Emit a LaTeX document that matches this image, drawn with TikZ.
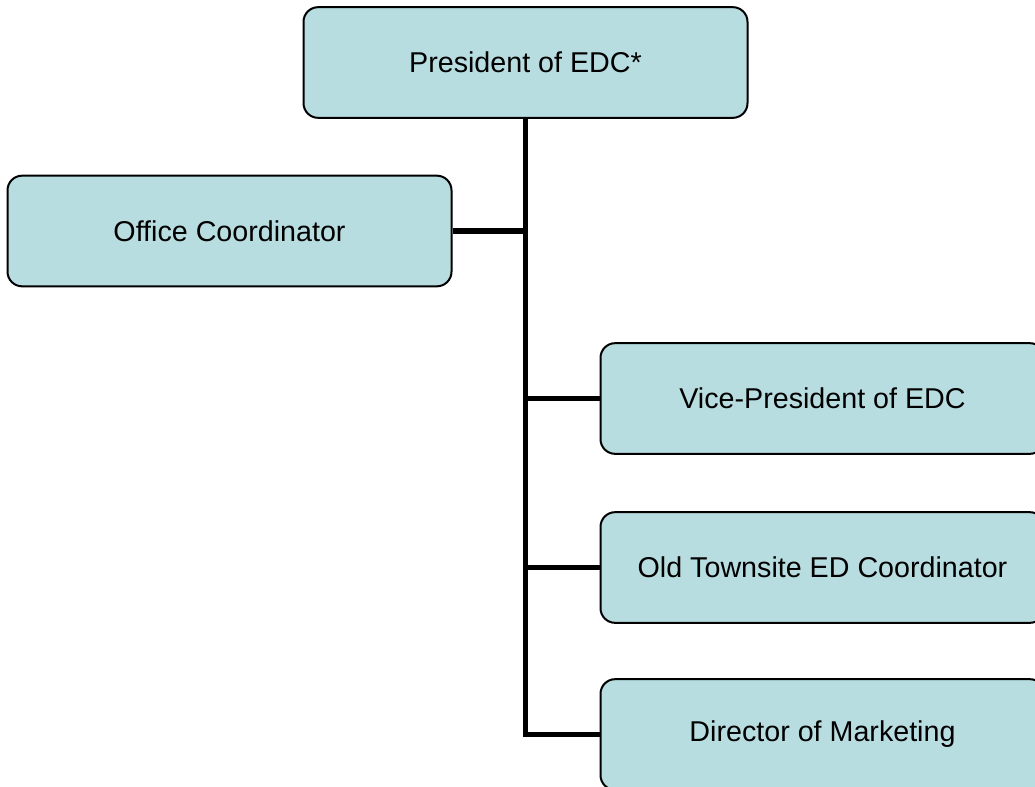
\documentclass[tikz,border=0pt]{standalone}
\usepackage{fontspec}
\setmainfont{Liberation Sans}
\usepackage{tikz}
\definecolor{boxfill}{RGB}{184,221,225}
\tikzset{
  post/.style={draw=black,line width=1.5pt,fill=boxfill,rounded corners=11pt,
    minimum width=333pt,minimum height=83pt,inner sep=0pt,
    font=\fontsize{21.5}{24}\selectfont},
  link/.style={line width=3.8pt}
}

\begin{document}
\begin{tikzpicture}[x=0.75pt,y=-0.75pt]
\useasboundingbox (0,0) rectangle (1035,786);
\clip (0,0) rectangle (1035,786);
% the posts
\node[post] (pres) at (525.5,62.5) {President of EDC*};
\node[post] (office) at (229.5,231) {Office Coordinator};
\node[post] (vp) at (822.5,398.5) {Vice-President of EDC};
\node[post] (old) at (822.5,567.5) {Old Townsite ED Coordinator};
\node[post] (dir) at (822.5,734.5) {Director of Marketing};
% trunk and branches
\draw[link] (pres.south) |- (dir.west);
\draw[link] (office.east) -- (office.east -| pres.south);
\draw[link] (vp.west) -- (vp.west -| pres.south);
\draw[link] (old.west) -- (old.west -| pres.south);
\end{tikzpicture}
\end{document}
